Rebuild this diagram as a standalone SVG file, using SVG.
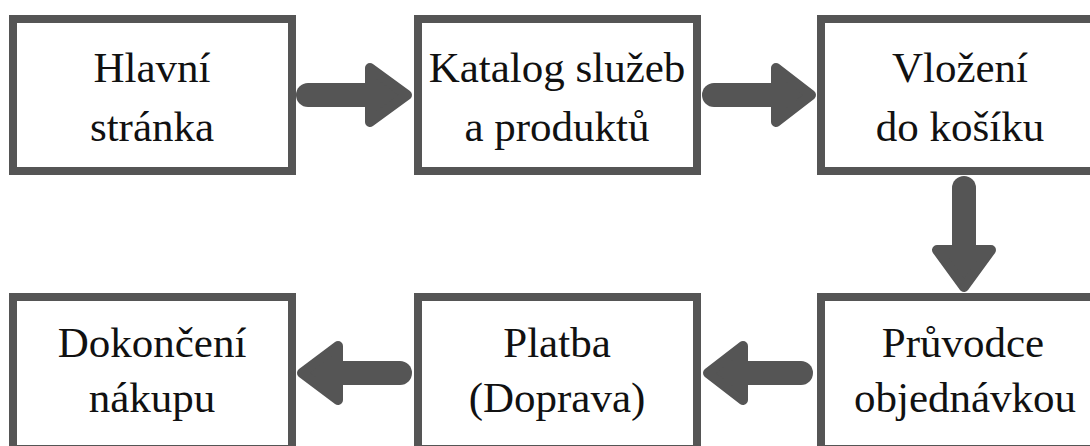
<svg xmlns="http://www.w3.org/2000/svg" width="1090" height="446" viewBox="0 0 1090 446">
<style>
.box{fill:#fff;stroke:#555;stroke-width:8}
.t{font-size:43px;fill:#111;text-anchor:middle}
.shaft{stroke:#555;stroke-width:24;stroke-linecap:round;fill:none}
.head{fill:#555;stroke:#555;stroke-width:10;stroke-linejoin:round}
</style>
<rect width="1090" height="446" fill="#fff"/>
<g font-family="Liberation Serif, DejaVu Serif, serif">
<g id="n1"><rect class="box" x="13" y="19" width="279" height="152"/><text class="t" x="152" y="82">Hlavní</text><text class="t" x="152" y="141">stránka</text></g>
<g id="n2"><rect class="box" x="418" y="19" width="279" height="152"/><text class="t" x="557" y="82">Katalog služeb</text><text class="t" x="557" y="141">a produktů</text></g>
<g id="n3"><rect class="box" x="821" y="19" width="279" height="152"/><text class="t" x="960" y="82">Vložení</text><text class="t" x="960" y="141">do košíku</text></g>
<g id="n4"><rect class="box" x="821" y="297" width="279" height="152"/><text class="t" x="963" y="357">Průvodce</text><text class="t" x="965" y="412">objednávkou</text></g>
<g id="n5"><rect class="box" x="418" y="297" width="279" height="152"/><text class="t" x="557" y="357">Platba</text><text class="t" x="557" y="412">(Doprava)</text></g>
<g id="n6"><rect class="box" x="13" y="297" width="279" height="152"/><text class="t" x="152" y="357">Dokončení</text><text class="t" x="152" y="412">nákupu</text></g>
</g>
<g id="connectors">
<line class="shaft" x1="308" y1="95" x2="372" y2="95"/><polygon class="head" points="370,68 407,95 370,122"/>
<line class="shaft" x1="714" y1="95" x2="777" y2="95"/><polygon class="head" points="776,68 811,95 776,122"/>
<line class="shaft" x1="964" y1="188" x2="964" y2="252"/><polygon class="head" points="937,250 991,250 964,287"/>
<line class="shaft" x1="801" y1="373" x2="740" y2="373"/><polygon class="head" points="743,346 708,373 743,400"/>
<line class="shaft" x1="400" y1="373" x2="336" y2="373"/><polygon class="head" points="338,346 302,373 338,400"/>
</g>
</svg>
